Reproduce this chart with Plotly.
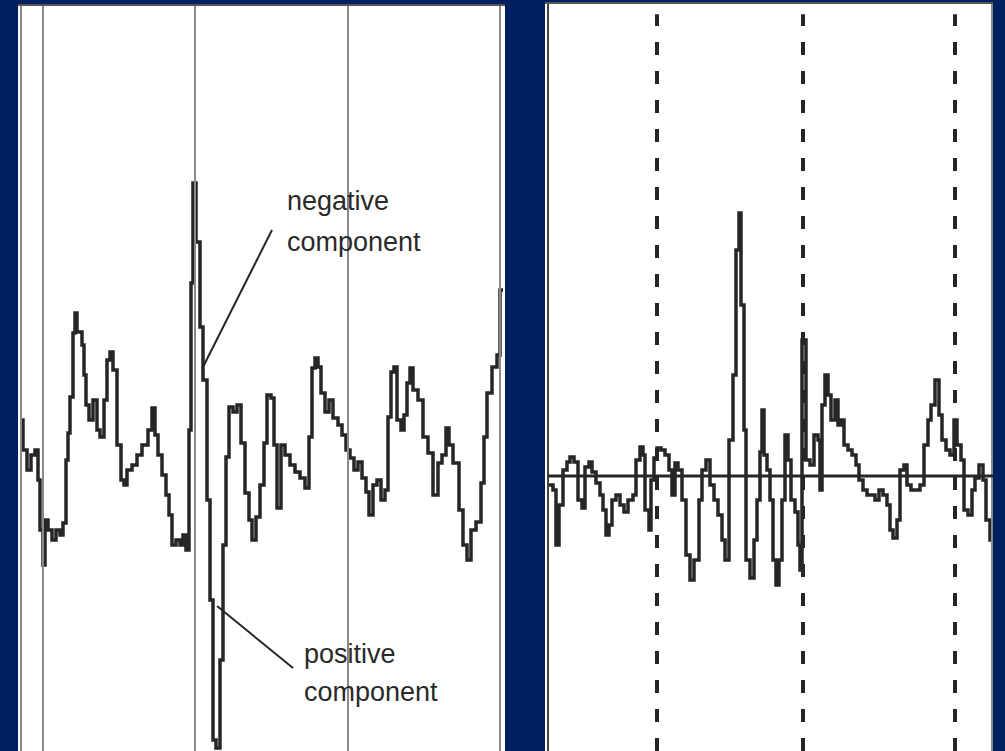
import plotly.graph_objects as go

# ---------------- data ----------------
# Left panel: raw recording (sample index, amplitude)
left_t = [21, 23, 27, 31, 35, 38, 40, 43, 45, 48, 52, 56, 60, 63, 66, 68, 70, 73, 75, 77,
          82, 84, 86, 89, 93, 97, 100, 104, 107, 110, 113, 117, 121, 124, 127, 132, 137, 142, 148, 152,
          155, 158, 162, 166, 169, 172, 176, 180, 183, 186, 189, 191, 193, 196, 200, 203, 207, 210, 213, 216,
          220, 223, 226, 229, 233, 237, 241, 245, 249, 252, 256, 260, 264, 267, 271, 274, 277, 281, 285, 290,
          295, 300, 305, 309, 312, 315, 318, 321, 325, 329, 333, 338, 342, 346, 350, 354, 358, 362, 366, 369,
          373, 377, 381, 385, 388, 391, 394, 397, 401, 404, 407, 410, 413, 418, 423, 428, 433, 438, 442, 446,
          449, 453, 459, 463, 467, 471, 476, 481, 484, 487, 492, 497, 500, 503]
left_amp = [5.6, 2.6, 0.6, 2.1, 2.6, -0.4, -5.4, -8.9, -4.4, -5.4, -6.4, -5.4, -5.9, -4.7, 1.6, 4.3, 7.9, 14.3, 16.3, 14.4,
            13.1, 10.1, 7.1, 5.6, 7.6, 4.6, 3.9, 7.6, 11.6, 12.4, 10.6, 3.1, -0.4, -0.9, 0.6, 1.1, 2.1, 3.1, 4.6, 6.8,
            4.1, 2.1, 0.1, -1.9, -3.9, -6.9, -6.4, -6.9, -5.9, -7.4, 4.6, 19.3, 29.3, 23.4, 14.9, 9.6, -2.4, -12.4, -26.4, -27.2,
            -18.4, -6.9, 1.9, 6.9, 6.4, 7.1, 3.3, -1.7, -4.4, -6.4, -4.1, -0.9, 3.3, 8.1, 7.8, 3.1, -3.2, 3.1, 2.1, 1.1,
            0.4, -0.2, -1.2, 3.9, 10.8, 11.8, 10.9, 8.3, 6.4, 7.6, 5.8, 5.1, 4.1, 2.6, 1.8, 0.6, 1.4, -0.2, -1.6, -3.9,
            -0.9, -0.4, -2.4, -1.4, 5.9, 10.4, 10.9, 5.6, 4.6, 6.1, 9.3, 10.8, 8.6, 7.6, 3.9, 2.3, -1.9, 1.3, 2.1, 4.8,
            3.1, 1.3, -3.4, -6.9, -8.4, -5.4, -4.6, -0.7, 3.9, 8.3, 10.9, 12.1, 18.6, 18.6]
left_markers = [43, 195, 348, 500]

# Right panel: processed signal (sample index, amplitude)
right_t = [548, 553, 556, 559, 563, 567, 570, 574, 578, 582, 585, 589, 592, 596, 600, 603, 606, 609, 612, 616,
           620, 624, 628, 633, 636, 640, 643, 645, 649, 651, 654, 657, 661, 665, 669, 672, 675, 678, 682, 686,
           690, 694, 699, 702, 706, 710, 714, 718, 722, 725, 729, 733, 736, 739, 741, 744, 746, 750, 754, 757,
           760, 762, 764, 767, 770, 773, 776, 779, 782, 785, 788, 791, 795, 798, 800, 802, 806, 810, 814, 818,
           820, 822, 825, 828, 831, 835, 838, 841, 844, 848, 852, 856, 859, 863, 867, 871, 875, 879, 883, 887,
           890, 893, 897, 900, 904, 907, 911, 916, 920, 924, 928, 931, 935, 939, 942, 946, 950, 954, 957, 961,
           964, 968, 972, 975, 979, 983, 986, 990, 993]
right_amp = [-0.9, -1.4, -6.9, -2.9, 0.6, 1.4, 1.9, 1.4, -2.4, -3.2, 0.9, 1.4, 0.4, -0.7, -1.9, -3.4, -5.9, -4.9, -2.4, -1.9,
             -2.9, -3.6, -2.4, -1.9, 1.6, 2.9, 2.1, -3.4, -5.4, -0.4, 1.8, 2.8, 2.6, 2.1, 0.6, -1.9, 1.3, 0.6, -2.4, -7.9,
             -10.4, -8.4, -2.4, 0.6, 1.6, -0.9, -2.4, -3.9, -6.4, -8.4, 3.6, 10.1, 22.6, 26.3, 17.1, 4.6, -8.4, -10.2, -6.4, -2.4,
             2.4, 6.6, 2.1, 0.6, -2.4, -8.4, -10.9, -8.4, -2.4, 4.1, 1.6, -2.4, -3.6, -6.9, -9.4, 13.6, 1.6, 1.1, 4.1, 3.6,
             -1.4, 7.1, 10.1, 8.1, 5.6, 7.6, 5.1, 5.6, 3.1, 2.6, 2.1, 1.1, -0.4, -1.4, -1.9, -1.9, -2.4, -1.4, -1.9, -2.9,
             -5.4, -6.2, -4.4, 0.6, 1.1, -0.9, -1.4, -1.4, -0.9, 3.1, 5.6, 7.1, 9.6, 6.1, 3.6, 2.6, 2.1, 5.6, 3.1, 1.6,
             -3.4, -3.9, -1.4, -0.2, 1.1, -0.4, -4.4, -6.4, -6.4]
right_markers = [657, 803, 955]

labels_neg = ["negative", "component"]
labels_pos = ["positive", "component"]

# ---------------- styling ----------------
NAVY = "#002060"
INK = "#262626"
GREY = "#8a8a8a"
FONT = "Liberation Sans, Arial, sans-serif"

fig = go.Figure()

fig.add_trace(go.Scatter(x=left_t, y=left_amp, mode="lines", line_shape="hv",
                         line=dict(color=INK, width=3.5), xaxis="x", yaxis="y",
                         showlegend=False, hoverinfo="skip"))
fig.add_trace(go.Scatter(x=right_t, y=right_amp, mode="lines", line_shape="hv",
                         line=dict(color=INK, width=3.5), xaxis="x2", yaxis="y2",
                         showlegend=False, hoverinfo="skip"))

shapes = []
# left panel borders and event markers
for xv in [21] + left_markers:
    shapes.append(dict(type="line", xref="x", yref="y domain", x0=xv, x1=xv, y0=0, y1=1,
                       line=dict(color=GREY, width=2)))
shapes.append(dict(type="line", xref="x domain", yref="y domain", x0=0, x1=1, y0=1, y1=1,
                   line=dict(color="#555555", width=2)))
# right panel borders
shapes.append(dict(type="line", xref="x2", yref="y2 domain", x0=548, x1=548, y0=0, y1=1,
                   line=dict(color="#444444", width=2)))
shapes.append(dict(type="line", xref="x2", yref="y2 domain", x0=992, x1=992, y0=0, y1=1,
                   line=dict(color=GREY, width=2)))
shapes.append(dict(type="line", xref="x2 domain", yref="y2 domain", x0=0, x1=1, y0=1, y1=1,
                   line=dict(color="#555555", width=2)))
# right panel dashed markers
for xv in right_markers:
    shapes.append(dict(type="line", xref="x2", yref="y2 domain", x0=xv, x1=xv, y0=0, y1=0.985,
                       line=dict(color=INK, width=4, dash="13px,16px")))
# right panel zero baseline
shapes.append(dict(type="line", xref="x2", yref="y2", x0=548, x1=993, y0=0, y1=0,
                   line=dict(color=INK, width=3)))
# annotation pointer lines
shapes.append(dict(type="line", xref="x", yref="y", x0=272, y0=24.6, x1=202, y1=10.7,
                   line=dict(color=INK, width=2)))
shapes.append(dict(type="line", xref="x", yref="y", x0=217, y0=-13.0, x1=293, y1=-19.2,
                   line=dict(color=INK, width=2)))

annotations = []
for txt, yv in zip(labels_neg, [27.5, 23.4]):
    annotations.append(dict(x=285, y=yv, xref="x", yref="y", text=txt, showarrow=False,
                            xanchor="left", yanchor="middle",
                            font=dict(family=FONT, size=27, color="#2a2a2a")))
for txt, yv in zip(labels_pos, [-17.8, -21.6]):
    annotations.append(dict(x=302, y=yv, xref="x", yref="y", text=txt, showarrow=False,
                            xanchor="left", yanchor="middle",
                            font=dict(family=FONT, size=27, color="#2a2a2a")))

W, H = 1005, 751
fig.update_layout(
    width=W, height=H,
    margin=dict(l=0, r=0, t=0, b=0),
    paper_bgcolor=NAVY, plot_bgcolor="white",
    shapes=shapes, annotations=annotations,
    xaxis=dict(domain=[18 / W, 505 / W], range=[18, 505], visible=False, showgrid=False, zeroline=False),
    yaxis=dict(domain=[0, 1 - 5 / H], range=[-27.5, 47.1], visible=False, showgrid=False, zeroline=False),
    xaxis2=dict(domain=[545 / W, 993 / W], range=[545, 993], visible=False, showgrid=False, zeroline=False,
                anchor="y2"),
    yaxis2=dict(domain=[0, 1 - 3 / H], range=[-27.5, 47.3], visible=False, showgrid=False, zeroline=False,
                anchor="x2"),
)

fig.write_html("out.html", config={"displayModeBar": False},
               post_script="document.body.style.margin='0px';document.body.style.background='#002060';")
